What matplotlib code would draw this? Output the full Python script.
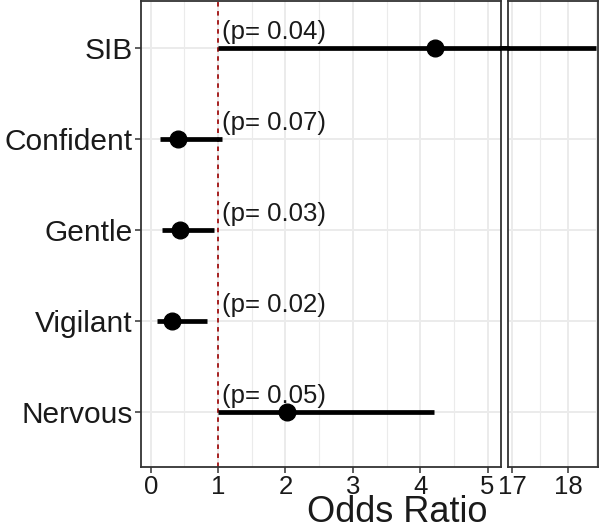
import matplotlib.pyplot as plt
from matplotlib.patches import ConnectionPatch

plt.rcParams['font.family'] = ['Liberation Sans', 'DejaVu Sans']

# data
traits = ["Nervous", "Vigilant", "Gentle", "Confident", "SIB"]
odds = [2.03, 0.31, 0.43, 0.41, 4.22]
lower = [1.0, 0.09, 0.17, 0.13, 1.0]
upper = [4.20, 0.83, 0.94, 1.06, 18.5]
pvals = ["0.05", "0.02", "0.03", "0.07", "0.04"]

ypos = list(range(1, len(traits) + 1))

fig = plt.figure(figsize=(6, 5.3), dpi=100)
ax1 = fig.add_axes([0.235, 0.119, 0.600, 0.879])
ax2 = fig.add_axes([0.847, 0.119, 0.150, 0.879])

grid_c = "#EBEBEB"
spine_c = "#333333"

for ax, xlim, major, minor in [
    (ax1, (-0.145, 5.2), [0, 1, 2, 3, 4, 5], [0.5, 1.5, 2.5, 3.5, 4.5]),
    (ax2, (16.93, 18.54), [17, 18], [17.5, 18.5]),
]:
    ax.set_xlim(*xlim)
    ax.set_ylim(0.4, 5.52)
    for v in major:
        ax.axvline(v, color=grid_c, lw=1.4, zorder=0)
    for v in minor:
        ax.axvline(v, color=grid_c, lw=0.8, zorder=0)
    for y in ypos:
        ax.axhline(y, color=grid_c, lw=1.4, zorder=0)
    ax.set_xticks(major)
    ax.set_xticklabels([str(v) for v in major])
    ax.tick_params(axis="x", labelsize=18.5, length=4, width=1.1,
                   color=spine_c, labelcolor="#1a1a1a", pad=2)
    for s in ax.spines.values():
        s.set_color(spine_c)
        s.set_linewidth(1.3)
    # intervals and points
    ax.hlines(ypos, lower, upper, color="black", lw=3.4, zorder=3)
    ax.plot(odds, ypos, "o", color="black", ms=12, zorder=4)

ax1.axvline(1, color="#A01010", lw=1.3, ls=(0, (2.5, 2.5)), zorder=2)

ax1.set_yticks(ypos)
ax1.set_yticklabels(traits)
ax1.tick_params(axis="y", labelsize=21.5, length=4, width=1.1,
                color=spine_c, labelcolor="#1a1a1a", pad=2)
ax2.set_yticks([])

for y, p in zip(ypos, pvals):
    ax1.text(1.06, y + 0.18, "(p= " + p + ")", fontsize=18.5,
             ha="left", va="center", color="#1a1a1a", zorder=5)

# SIB interval continues across the axis break
con = ConnectionPatch(xyA=(5.2, 5), coordsA=ax1.transData,
                      xyB=(16.93, 5), coordsB=ax2.transData,
                      color="black", lw=3.4, zorder=3)
fig.add_artist(con)

fig.text(0.662, 0.0145, "Odds Ratio", fontsize=26, ha="center", va="baseline",
         color="#1a1a1a")

plt.savefig("out.png", dpi=100)
